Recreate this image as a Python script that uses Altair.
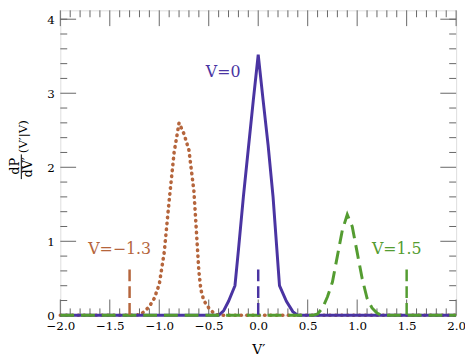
import altair as alt
import pandas as pd

# ---- data ----
purple_x = [-2.0, -0.45, -0.4, -0.35, -0.3, -0.235, -0.2, -0.15, -0.1, -0.05, 0.0, 0.05, 0.1, 0.15, 0.215, 0.285, 0.35, 0.4, 0.45, 2.0]
purple_y = [0.0, 0.0, 0.0, 0.06, 0.19, 0.4, 0.88, 1.6, 2.25, 2.9, 3.52, 2.9, 2.3, 1.6, 0.4, 0.19, 0.05, 0.0, 0.0, 0.0]

brown_x = [-2.0, -1.25, -1.2, -1.15, -1.1, -1.05, -1.0, -0.95, -0.9, -0.85, -0.8, -0.75, -0.7, -0.65, -0.63, -0.6, -0.58, -0.55, -0.5, -0.45, -0.4, 2.0]
brown_y = [0.0, 0.0, 0.01, 0.05, 0.12, 0.23, 0.42, 0.85, 1.55, 2.2, 2.6, 2.45, 2.23, 1.68, 1.25, 0.6, 0.35, 0.2, 0.1, 0.03, 0.0, 0.0]

green_x = [-2.0, 0.55, 0.6, 0.65, 0.7, 0.75, 0.8, 0.85, 0.9, 0.95, 1.0, 1.05, 1.1, 1.15, 1.2, 1.25, 2.0]
green_y = [0.0, 0.0, 0.02, 0.1, 0.25, 0.45, 0.8, 1.15, 1.36, 1.2, 0.85, 0.5, 0.23, 0.1, 0.03, 0.0, 0.0]

marker_x = [-1.3, 0.0, 1.5]
marker_top = [0.62, 0.62, 0.62]

label_text = ["V=\u22121.3", "V=0", "V=1.5"]
label_x = [-1.40, -0.355, 1.40]
label_y = [0.89, 3.29, 0.89]

C_PURPLE = "#4a34a2"
C_BROWN = "#b5653c"
C_GREEN = "#549c31"
series_colors = [C_BROWN, C_PURPLE, C_GREEN]

x_major = [-2.0, -1.5, -1.0, -0.5, 0.0, 0.5, 1.0, 1.5, 2.0]
x_minor = [-1.9, -1.8, -1.7, -1.6, -1.4, -1.3, -1.2, -1.1, -0.9, -0.8, -0.7, -0.6,
           -0.4, -0.3, -0.2, -0.1, 0.1, 0.2, 0.3, 0.4, 0.6, 0.7, 0.8, 0.9,
           1.1, 1.2, 1.3, 1.4, 1.6, 1.7, 1.8, 1.9]
y_major = [0, 1, 2, 3, 4]
y_minor = [0.2, 0.4, 0.6, 0.8, 1.2, 1.4, 1.6, 1.8, 2.2, 2.4, 2.6, 2.8,
           3.2, 3.4, 3.6, 3.8, 4.0]

W, H = 401, 309
FONT = "DejaVu Serif"

xs = alt.Scale(domain=[-2, 2], nice=False, zero=False)
ys = alt.Scale(domain=[0, 4.12], nice=False, zero=False)

xaxis = alt.Axis(values=x_major, format=".1f", ticks=False, tickSize=0, domain=False, grid=False,
                 labelFont=FONT, labelFontSize=12, labelColor="black", labelPadding=5,
                 labelFlush=False, labelOverlap=False,
                 title="V\u2032", titleFont=FONT, titleFontSize=14, titleFontWeight="normal",
                 titleColor="black", titlePadding=12)
yaxis = alt.Axis(values=y_major, format="d", ticks=False, tickSize=0, domain=False, grid=False,
                 labelFont=FONT, labelFontSize=12, labelColor="black", labelPadding=6,
                 labelFlush=False, title=None)

X = alt.X("x:Q", scale=xs, axis=xaxis)
Y = alt.Y("y:Q", scale=ys, axis=yaxis)

def curve(xv, yv, color, width=3, **kw):
    df = pd.DataFrame({"x": xv, "y": yv})
    return alt.Chart(df).mark_line(color=color, strokeWidth=width, **kw).encode(x=X, y=Y)

brown = curve(brown_x, brown_y, C_BROWN, width=3.6, strokeDash=[0.5, 5.5], strokeCap="round")
purple = curve(purple_x, purple_y, C_PURPLE)
green = curve(green_x, green_y, C_GREEN, strokeDash=[14, 7])

mk = pd.DataFrame({"x": marker_x, "y": marker_top, "y0": [0, 0, 0], "c": series_colors})
markers = alt.Chart(mk).mark_rule(strokeWidth=2.5, strokeDash=[12, 5]).encode(
    x=X, y=Y, y2="y0:Q", color=alt.Color("c:N", scale=None))

lb = pd.DataFrame({"x": label_x, "y": label_y, "t": label_text, "c": series_colors})
labels = alt.Chart(lb).mark_text(font=FONT, fontSize=16, align="center", baseline="middle").encode(
    x=X, y=Y, text="t:N", color=alt.Color("c:N", scale=None))

TICK = "#666666"
def xticks(vals, length):
    df = pd.DataFrame({"x": vals})
    b = alt.Chart(df).mark_rule(color=TICK, strokeWidth=1).encode(x=X, y=alt.value(H), y2=alt.value(H - length))
    t = alt.Chart(df).mark_rule(color=TICK, strokeWidth=1).encode(x=X, y=alt.value(0), y2=alt.value(length))
    return [b, t]

def yticks(vals, length):
    df = pd.DataFrame({"y": vals})
    l = alt.Chart(df).mark_rule(color=TICK, strokeWidth=1).encode(y=Y, x=alt.value(0), x2=alt.value(length))
    r = alt.Chart(df).mark_rule(color=TICK, strokeWidth=1).encode(y=Y, x=alt.value(W), x2=alt.value(W - length))
    return [l, r]

tick_layers = xticks(x_major, 16) + xticks(x_minor, 7) + yticks(y_major, 16) + yticks(y_minor, 7)

# y-axis title built as a fraction
one = pd.DataFrame({"a": [0]})
t_dp = alt.Chart(one).mark_text(text="dP", font=FONT, fontSize=13, angle=270, align="center",
                                baseline="middle", color="black").encode(x=alt.value(-46), y=alt.value(158))
t_dv = alt.Chart(one).mark_text(text="dV\u2032", font=FONT, fontSize=13, angle=270, align="center",
                                baseline="middle", color="black").encode(x=alt.value(-33), y=alt.value(159))
t_bar = alt.Chart(one).mark_rule(color="black", strokeWidth=1).encode(
    x=alt.value(-39.5), y=alt.value(146), y2=alt.value(171))
t_cond = alt.Chart(one).mark_text(text="(V\u2032|V)", font=FONT, fontSize=12, angle=270, align="center",
                                  baseline="middle", color="black").encode(x=alt.value(-38), y=alt.value(128))

chart = alt.layer(
    *tick_layers, brown, purple, green, markers, labels, t_dp, t_dv, t_bar, t_cond
).properties(
    width=W, height=H,
    autosize=alt.AutoSizeParams(type="none"),
    padding={"left": 53, "top": 0, "right": 9, "bottom": 50},
).configure_view(stroke="black", strokeWidth=1.5).configure(background="white")

chart.save("out.html", embed_options={"renderer": "svg", "actions": False})
